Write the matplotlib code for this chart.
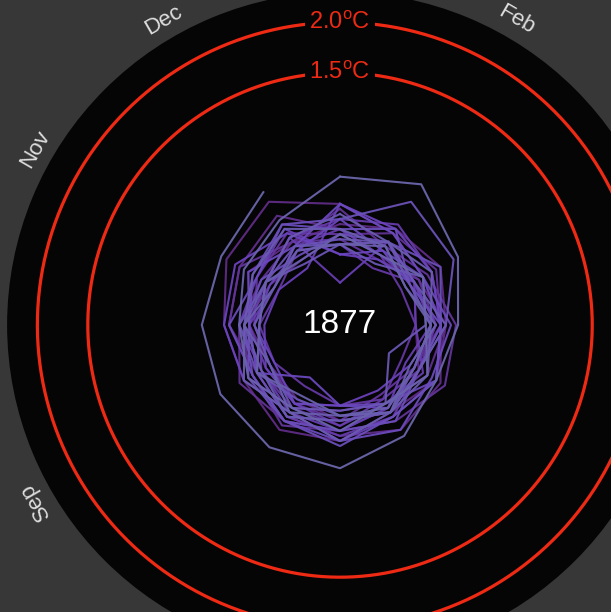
import numpy as np
import matplotlib
matplotlib.use("Agg")
import matplotlib.pyplot as plt
from matplotlib.colors import LinearSegmentedColormap

BG = "#373737"
DISC = "#050505"
RED = "#ee2a14"
MONTH_COL = "#dedede"

plt.rcParams["font.family"] = ["Liberation Sans", "DejaVu Sans"]
plt.rcParams["mathtext.fontset"] = "custom"
plt.rcParams["mathtext.rm"] = "Liberation Sans"

# ---------- DATA ----------
months = ["Jan", "Feb", "Mar", "Apr", "May", "Jun",
          "Jul", "Aug", "Sep", "Oct", "Nov", "Dec"]
years = [1850, 1851, 1852, 1853, 1854, 1855, 1856, 1857, 1858, 1859,
         1860, 1861, 1862, 1863, 1864, 1865, 1866, 1867, 1868, 1869,
         1870, 1871, 1872, 1873, 1874, 1875, 1876, 1877]
# monthly anomaly (degC, vs 1850-1900), one row per year
anomaly = [
    [-0.20, -0.05, -0.15, -0.25, -0.10, 0.00, -0.05, -0.15, -0.20, -0.10, 0.05, -0.05],
    [0.00, 0.10, 0.15, 0.05, 0.10, 0.00, 0.15, 0.20, 0.10, 0.15, 0.30, 0.41],
    [0.20, 0.05, -0.05, 0.00, 0.15, 0.20, 0.10, 0.05, -0.05, 0.10, 0.15, 0.25],
    [-0.05, -0.20, -0.10, 0.05, 0.00, -0.10, -0.15, -0.05, 0.05, -0.05, -0.20, -0.25],
    [-0.10, 0.05, 0.10, 0.00, -0.15, -0.05, 0.05, 0.10, 0.15, 0.00, -0.10, -0.05],
    [0.15, -0.10, 0.00, 0.15, 0.20, 0.10, 0.05, 0.15, 0.00, 0.10, 0.15, -0.05],
    [-0.15, -0.25, -0.10, -0.05, -0.15, -0.20, -0.05, -0.10, -0.20, -0.15, -0.05, 0.05],
    [-0.10, -0.20, -0.30, -0.25, -0.30, -0.15, -0.20, -0.30, -0.25, -0.20, -0.30, -0.15],
    [-0.20, -0.35, -0.15, -0.05, -0.10, -0.15, 0.00, -0.05, -0.10, -0.20, -0.15, 0.00],
    [0.05, 0.15, 0.05, 0.00, -0.10, 0.05, 0.10, 0.05, -0.05, -0.10, -0.25, -0.10],
    [-0.05, -0.20, -0.15, -0.25, -0.05, -0.10, 0.00, -0.10, -0.15, -0.10, -0.15, 0.00],
    [-0.58, -0.04, -0.15, -0.10, -0.25, -0.05, 0.05, 0.00, -0.10, 0.00, -0.05, 0.10],
    [-0.30, -0.25, -0.15, -0.05, -0.20, -0.25, -0.20, -0.10, -0.15, -0.25, -0.30, -0.35],
    [0.20, 0.10, 0.05, 0.00, 0.10, 0.05, 0.15, 0.00, 0.10, 0.15, 0.20, 0.05],
    [-0.30, -0.15, -0.20, -0.10, -0.15, -0.05, -0.20, -0.10, -0.25, -0.15, -0.20, -0.15],
    [0.05, -0.15, -0.05, 0.00, 0.10, -0.10, -0.20, -0.40, -0.05, -0.10, 0.05, -0.10],
    [0.20, 0.05, -0.05, 0.10, 0.05, 0.20, 0.15, 0.10, 0.00, 0.10, -0.05, 0.15],
    [-0.05, 0.10, -0.20, 0.00, -0.10, 0.10, 0.05, 0.10, 0.00, -0.05, -0.10, -0.20],
    [-0.10, -0.05, 0.15, 0.00, 0.10, 0.05, 0.20, 0.10, 0.05, -0.10, 0.00, 0.15],
    [0.05, 0.41, 0.30, 0.05, -0.10, 0.00, -0.05, 0.05, -0.05, 0.00, -0.15, -0.10],
    [-0.15, -0.05, -0.20, -0.10, -0.15, 0.00, -0.10, -0.15, -0.05, -0.20, -0.15, -0.30],
    [-0.20, -0.30, -0.05, -0.15, -0.44, -0.10, -0.15, -0.05, -0.20, -0.15, -0.25, -0.10],
    [-0.20, -0.05, -0.15, 0.05, -0.10, 0.00, -0.05, 0.05, -0.10, -0.05, -0.15, 0.00],
    [0.10, -0.05, 0.05, -0.10, 0.00, 0.00, 0.15, 0.00, 0.10, -0.05, 0.00, 0.10],
    [-0.05, -0.10, -0.25, -0.05, -0.20, 0.00, -0.10, 0.00, -0.20, -0.05, -0.25, -0.15],
    [-0.20, -0.10, -0.25, -0.10, -0.15, -0.05, -0.10, -0.20, -0.05, -0.20, -0.15, -0.25],
    [-0.10, -0.20, -0.05, -0.15, 0.00, -0.10, 0.05, -0.05, 0.05, 0.00, 0.10, 0.20],
    [0.47, 0.61, 0.35, 0.17, 0.10, 0.27, 0.42, 0.40, 0.37, 0.37, 0.36, 0.52],
]
limits = [1.5, 2.0]
limit_labels = [r"1.5$^\mathregular{o}$C", r"2.0$^\mathregular{o}$C"]
current_year = "1877"

OFFSET = 1.0   # radius = anomaly + 1
RMAX = 3.3

# ---------- FIGURE ----------
fig = plt.figure(figsize=(6.11, 6.12), dpi=100, facecolor=BG)
ax = fig.add_axes([0.0115, -0.075, 1.090, 1.088], projection="polar")
ax.set_theta_zero_location("N")
ax.set_theta_direction(-1)
ax.set_facecolor(DISC)
ax.set_ylim(0, RMAX)
ax.grid(False)
ax.set_xticks([])
ax.set_yticks([])
ax.spines["polar"].set_visible(False)

cmap = LinearSegmentedColormap.from_list(
    "spiral", ["#5e2a82", "#6a44c0", "#6a66aa"])
theta = np.arange(12) * 2 * np.pi / 12

for i, yr in enumerate(years):
    r = np.array(anomaly[i]) + OFFSET
    t = theta
    if i + 1 < len(years):
        r = np.append(r, anomaly[i + 1][0] + OFFSET)
        t = np.append(theta, 2 * np.pi)
    col = cmap(i / (len(years) - 1))
    ax.plot(t, r, color=col, lw=1.5, alpha=0.95, zorder=3)

# limit rings
ring = np.linspace(0, 2 * np.pi, 400)
for lim, lab in zip(limits, limit_labels):
    ax.plot(ring, np.full_like(ring, lim + OFFSET), color=RED, lw=2.3, zorder=2)
    ax.text(0, lim + OFFSET, lab, color=RED, fontsize=17,
            ha="center", va="center", zorder=4,
            bbox=dict(facecolor=DISC, edgecolor="none", pad=3))

# month labels round the edge
for k, m in enumerate(months):
    ang = np.degrees(theta[k])
    ax.text(theta[k], 3.49, m, color=MONTH_COL, fontsize=16,
            ha="center", va="center", rotation=-ang,
            rotation_mode="anchor", clip_on=False)

ax.text(0, 0, current_year, color="white", fontsize=24,
        ha="center", va="center", zorder=5)

fig.savefig("out.png", dpi=100, facecolor=BG)
